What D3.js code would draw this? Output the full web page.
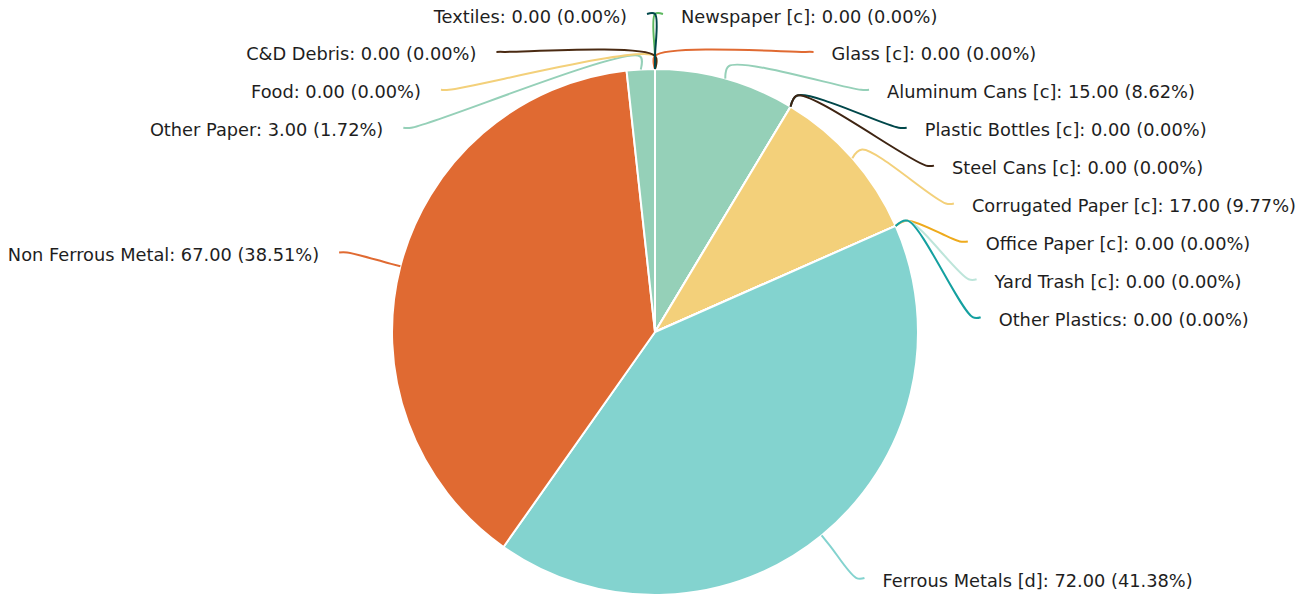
<!DOCTYPE html>
<html>
<head>
<meta charset="utf-8">
<script src="https://cdn.jsdelivr.net/npm/d3@7"></script>
<style>
  html, body { margin: 0; padding: 0; background: #fff; }
  svg { display: block; }
  text { font-family: "DejaVu Sans", sans-serif; font-size: 17.8px; fill: #1e1e1e; }
</style>
</head>
<body>
<svg id="chart" width="1311" height="599"></svg>
<script>
// ---- data (clockwise from 12 o'clock) ----
const categories = [
  "Newspaper [c]", "Glass [c]", "Aluminum Cans [c]", "Plastic Bottles [c]", "Steel Cans [c]",
  "Corrugated Paper [c]", "Office Paper [c]", "Yard Trash [c]", "Other Plastics",
  "Ferrous Metals [d]", "Non Ferrous Metal", "Other Paper", "Food", "C&D Debris", "Textiles"
];
const values = [0, 0, 15, 0, 0, 17, 0, 0, 0, 72, 67, 3, 0, 0, 0];
const colors = [
  "#5cb85f", "#e06a32", "#95d0b8", "#00474a", "#3e2412",
  "#f3d07a", "#eeaa1c", "#bde5da", "#14a0a0",
  "#83d3cf", "#e06a32", "#95d0b8", "#f3d07a", "#4a2a12", "#00474a"
];

// ---- layout ----
const W = 1311, H = 599;
const cx = 655, cy = 332, r = 263;
const kinkR = r + 13;
const labelR = 318;
const labelGap = 37.9;
const tailLen = 8;

const svg = d3.select("#chart");
const g = svg.append("g").attr("transform", `translate(${cx},${cy})`);

const total = d3.sum(values);
const data = categories.map((c, i) => ({ name: c, value: values[i], color: colors[i], index: i }));

const pie = d3.pie().value(d => d.value).sort(null);
const arcs = pie(data);
const arcGen = d3.arc().innerRadius(0).outerRadius(r);

g.selectAll("path.slice")
  .data(arcs)
  .join("path")
  .attr("class", "slice")
  .attr("d", arcGen)
  .attr("fill", d => d.data.color)
  .attr("stroke", "#fff")
  .attr("stroke-width", 2)
  .attr("stroke-linejoin", "round");

// label layout
arcs.forEach(a => {
  a.mid = (a.startAngle + a.endAngle) / 2;
  a.right = a.mid < Math.PI;
  a.natY = -labelR * Math.cos(a.mid);
});
function stack(list) {
  let prev = -Infinity;
  list.forEach(a => {
    a.ly = Math.max(a.natY, prev + labelGap);
    prev = a.ly;
  });
}
const rightList = arcs.filter(a => a.right).sort((a, b) => a.natY - b.natY || a.index - b.index);
const leftList = arcs.filter(a => !a.right).sort((a, b) => a.natY - b.natY || b.index - a.index);
stack(rightList);
stack(leftList);

const lineGen = d3.line().curve(d3.curveCatmullRom.alpha(0.5));

arcs.forEach(a => {
  const s = a.right ? 1 : -1;
  const sx = Math.sin(a.mid), sy = -Math.cos(a.mid);
  const p0 = [r * sx, r * sy];
  const p1 = [kinkR * sx, kinkR * sy];
  const dx = Math.sqrt(Math.max(0, labelR * labelR - a.ly * a.ly));
  const q = [s * dx, a.ly];
  const p2 = [s * (dx + tailLen), a.ly];
  a.p2 = p2;
  g.append("path")
    .attr("d", lineGen([p0, p1, q, p2]))
    .attr("fill", "none")
    .attr("stroke", a.data.color)
    .attr("stroke-width", 2);
});

arcs.forEach(a => {
  const pct = (a.data.value / total * 100).toFixed(2);
  g.append("text")
    .attr("x", a.p2[0] + (a.right ? 18 : -20))
    .attr("y", a.p2[1] + 8.5)
    .attr("text-anchor", a.right ? "start" : "end")
    .text(`${a.data.name}: ${a.data.value.toFixed(2)} (${pct}%)`);
});
</script>
</body>
</html>
